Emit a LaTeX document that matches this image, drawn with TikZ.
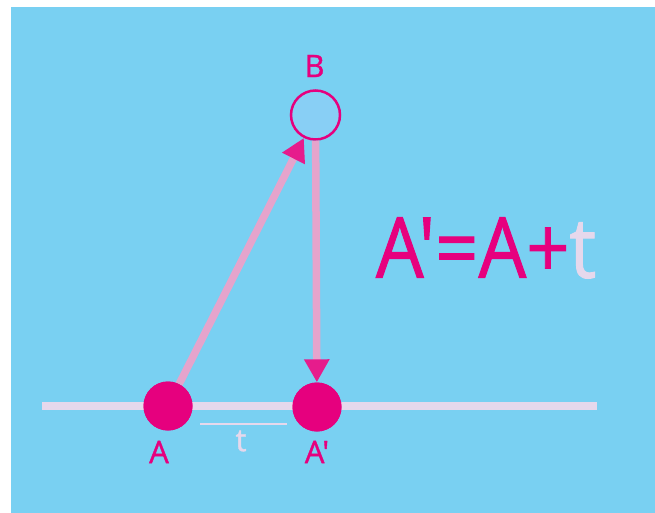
\documentclass[tikz,border=0pt]{standalone}
\usepackage{fontspec}
\setmainfont{Open Sans}[Ligatures=TeXOff,FakeBold=1.2]
\usepackage{tikz}
\usetikzlibrary{arrows.meta,positioning}
\definecolor{sky}{HTML}{79D0F2}
\definecolor{skysoft}{HTML}{88CFF5}
\definecolor{mag}{HTML}{E6007E}
\definecolor{magtip}{HTML}{E61C8C}
\definecolor{shaft}{HTML}{E5A4CC}
\definecolor{lav}{HTML}{E6D8EC}
\tikzset{
  vpt/.style={circle,fill=mag,minimum size=49pt,inner sep=0pt},
  vhollow/.style={circle,draw=mag,line width=2.5pt,fill=skysoft,minimum size=49pt,inner sep=0pt},
  vlab/.style={font=\fontsize{31}{31}\selectfont,text=mag,inner sep=0pt},
  varr/.style={-{Triangle[length=23pt,width=24pt,color=magtip]},line width=7.5pt,draw=shaft},
  vline/.style={line width=8pt,draw=lav}
}
\begin{document}
\begin{tikzpicture}[x=1pt,y=-1pt]
  \useasboundingbox (0,0) rectangle (655,513);
  \fill[white] (0,0) rectangle (655,513);
  \fill[sky] (11,7) rectangle (655,513);
  % base line and the shift t
  \coordinate (l0) at (42,406);
  \coordinate (l1) at (597,406);
  \draw[vline] (l0) -- (l1);
  \coordinate (t0) at (200,424);
  \coordinate (t1) at (287,424);
  \draw[lav,line width=2.5pt] (t0) -- (t1);
  \node[vlab,text=lav] (tl) at (241,441) {t};
  % points
  \node[vhollow] (B) at (315.5,115) {};
  \node[vpt] (A) at (168,406) {};
  \node[vpt] (A2) at (317,407) {};
  \draw[varr] (A) -- (B);
  \draw[varr] (B) -- (A2);
  \node[vpt] at (A) {};
  \node[vpt] at (A2) {};
  \node[vlab] (Bl) at (314.5,66) {B};
  \node[vlab] (Al) at (159,452) {A};
  \node[vlab] (A2l) at (317,452) {A'};
  % formula
  \node[font=\fontsize{84}{84}\selectfont,text=mag,inner sep=0pt,xscale=0.9,transform shape] (f) at (486,248) {A'=A+\textcolor{lav}{t}};
\end{tikzpicture}
\end{document}
